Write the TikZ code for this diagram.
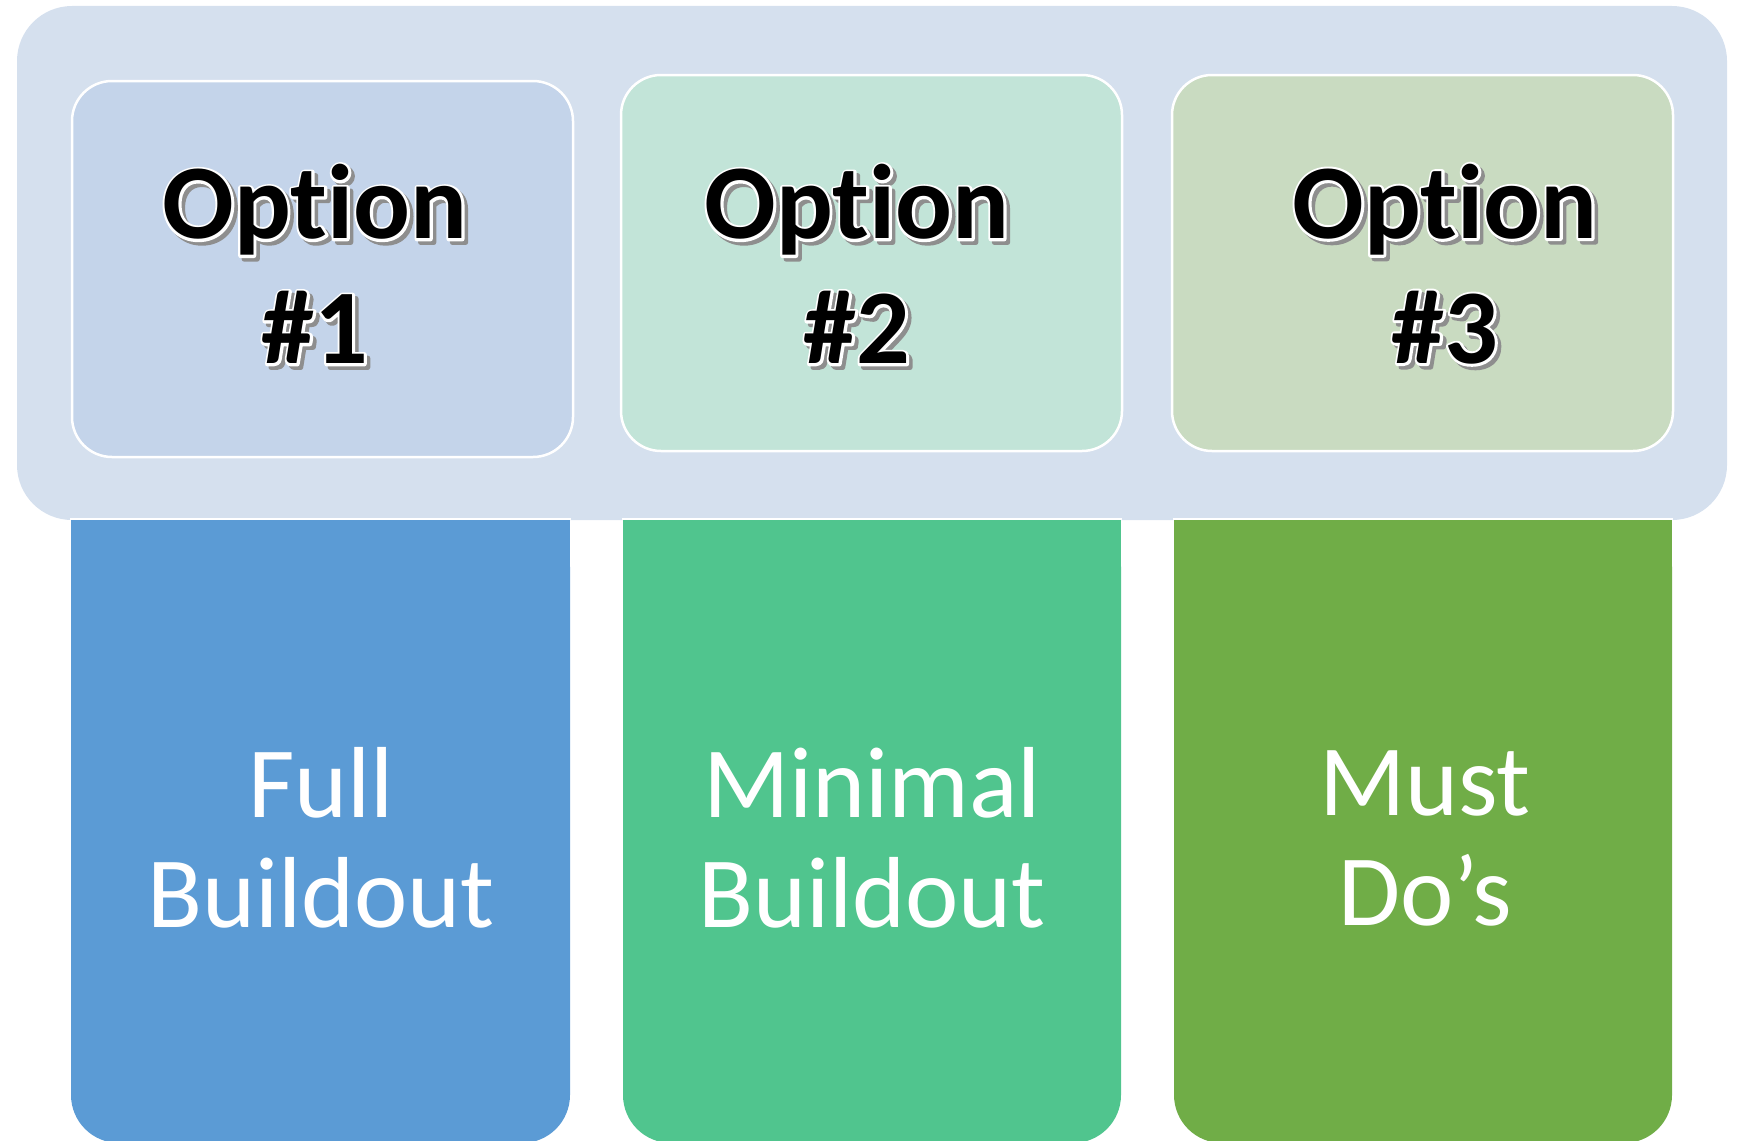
\documentclass[tikz,border=0pt]{standalone}
\usepackage{fontspec}
\setmainfont{Carlito}[Ligatures=NoCommon]

\definecolor{panelbg}{HTML}{D5E0EE}
\definecolor{topA}{HTML}{C4D4EA}
\definecolor{topB}{HTML}{C2E4D8}
\definecolor{topC}{HTML}{C9DBC1}
\definecolor{barA}{HTML}{5B9BD5}
\definecolor{barB}{HTML}{50C58E}
\definecolor{barC}{HTML}{70AD47}
\definecolor{shadowgray}{HTML}{8E8E8E}

% text drawn as outline only (PDF text render mode 1 / 2)
\newcommand\strokedtext[4]{% #1 colour, #2 rgb of stroke, #3 mode, #4 text
  {\color{#1}\special{pdf:literal direct q #3 Tr 5 w 1 j #2 RG}#4\special{pdf:literal direct Q}}}

% black lettering with a white rim and a grey drop shadow
\newcommand\haloed[1]{%
  \leavevmode
  \rlap{\hspace{3.5pt}\raisebox{-3.5pt}{\strokedtext{shadowgray}{0.557 0.557 0.557}{2}{#1}}}%
  \rlap{\strokedtext{white}{1 1 1}{1}{#1}}%
  \textcolor{black}{#1}}

\tikzset{
  optbox/.style={draw=white, line width=2.5pt, rounded corners=40pt},
  opttext/.style={align=center, inner sep=0pt,
    font=\fontsize{106}{125}\selectfont\bfseries},
  bartext/.style={align=center, inner sep=0pt, text=white,
    font=\fontsize{101}{110}\selectfont},
}

\begin{document}
\begin{tikzpicture}[x=1pt, y=-1pt]
  \useasboundingbox (0,0) rectangle (1739,1140);
  \clip (0,0) rectangle (1739,1140);

  % light panel behind the three options
  \fill[panelbg, rounded corners=55pt] (17,6) rectangle (1727,520);

  % option boxes
  \filldraw[optbox, fill=topA] (72,81) rectangle (573,457);
  \filldraw[optbox, fill=topB] (621,75) rectangle (1122,451);
  \filldraw[optbox, fill=topC] (1172,75) rectangle (1673,451);

  \node[opttext] (opt1) at (315,266) {\haloed{Option}\\\haloed{\#1}};
  \node[opttext] (opt2) at (857,266) {\haloed{Option}\\\haloed{\#2}};
  \node[opttext] (opt3) at (1445,266) {\haloed{Option}\\\haloed{\#3}};

  % coloured columns below, rounded only at the bottom
  \foreach \xa/\xb/\col in {71/570/barA, 623/1121/barB, 1174/1672/barC}{
    \fill[\col, rounded corners=48pt] (\xa,519) rectangle (\xb,1143);
    \fill[\col] (\xa,519) rectangle (\xb,640);
    \draw[white, line width=2.5pt] (\xa-1,519) -- (\xb+1,519);
  }

  \node[bartext] (res1) at (321,838) {Full\\Buildout};
  \node[bartext] (res2) at (872,838) {Minimal\\Buildout};
  \node[bartext] (res3) at (1425,838) {Must\\Do’s};
\end{tikzpicture}
\end{document}
